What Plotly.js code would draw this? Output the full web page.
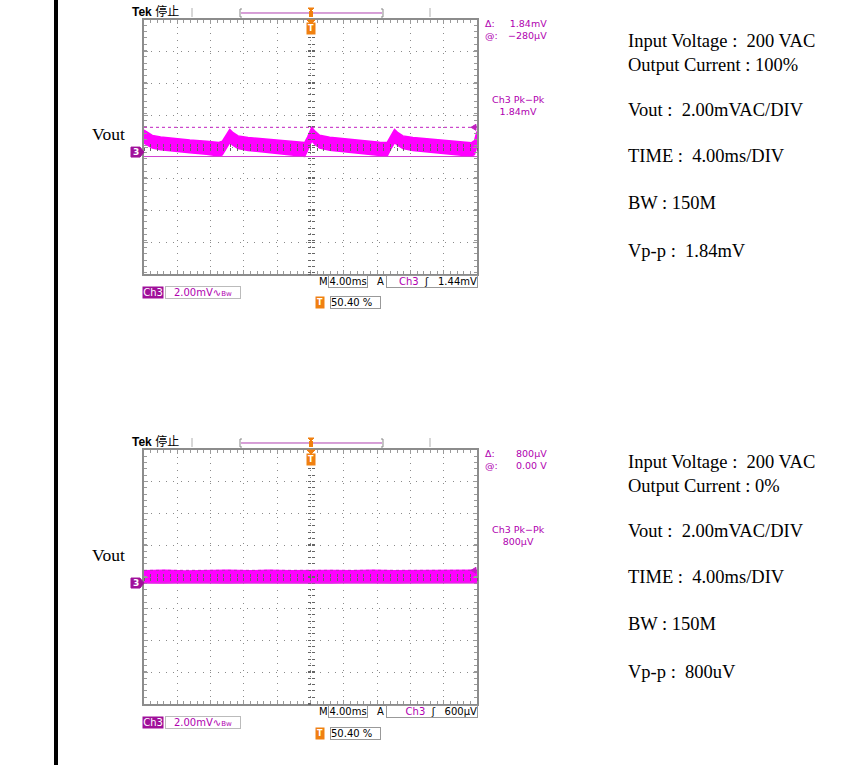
<!DOCTYPE html>
<html><head><meta charset="utf-8">
<script src="https://cdn.plot.ly/plotly-3.0.1.min.js"></script>
<style>html,body{margin:0;padding:0;background:#fff;}#chart{width:866px;height:765px;}</style>
</head><body><div id="chart"></div>
<script>
// ---------- data (mV relative to channel ground, time in ms) ----------
const timeTop  = [-20,-19.5,-19,-18,-16.5,-14.5,-12.5,-11,-10.6,-10.2,-9.7,-9.3,-8.7,-7.5,-5.5,-3.5,-1.5,-0.7,-0.35,0.15,0.55,1.1,2.3,4.3,6.3,8.3,9.2,9.6,10.1,10.5,11.1,12.3,14.3,16.3,18.3,19.3,19.7,20];
const upperTop = [1.38,1.2,1.05,0.95,0.85,0.76,0.68,0.6,0.68,1.05,1.43,1.22,1.02,0.92,0.82,0.72,0.62,0.6,0.95,1.56,1.3,1.06,0.94,0.82,0.72,0.62,0.6,1.0,1.43,1.22,1.02,0.92,0.82,0.72,0.62,0.58,0.72,1.3];
const lowerTop = [0.57,0.4,0.25,0.15,0.05,-0.05,-0.14,-0.24,-0.18,0.2,0.6,0.42,0.22,0.1,0.0,-0.1,-0.2,-0.27,0.1,0.72,0.48,0.25,0.12,0.0,-0.1,-0.2,-0.26,0.15,0.6,0.42,0.22,0.1,0.0,-0.1,-0.2,-0.26,-0.15,0.4];
const timeBottom  = [-20,-17.5,-15,-12.5,-10,-7.5,-5,-2.5,0,2.5,5,7.5,10,12.5,15,17.5,20];
const upperBottom = [0.78,0.8,0.76,0.79,0.8,0.77,0.8,0.78,0.8,0.79,0.77,0.8,0.78,0.79,0.8,0.77,0.8];
const lowerBottom = [0.02,0.0,0.03,0.01,0.0,0.02,0.01,0.0,0.02,0.0,0.03,0.01,0.0,0.02,0.01,0.0,0.03];
const cursorsTop    = [-0.28, 1.56];
const cursorsBottom = [0.0, 0.8];
const readoutTop    = {delta:'1.84mV', at:'\u2212280\u00b5V', pk:'1.84mV', trig:'1.44mV'};
const readoutBottom = {delta:'800\u00b5V', at:'0.00 V', pk:'800\u00b5V', trig:'600\u00b5V'};
const infoTop    = ['Input Voltage :  200 VAC','Output Current : 100%','Vout :  2.00mVAC/DIV','TIME :  4.00ms/DIV','BW : 150M','Vp-p :  1.84mV'];
const infoBottom = ['Input Voltage :  200 VAC','Output Current : 0%','Vout :  2.00mVAC/DIV','TIME :  4.00ms/DIV','BW : 150M','Vp-p :  800uV'];

// ---------- geometry / style ----------
const W = 866, H = 765;
const px = x => x / W, py = y => 1 - y / H;
const MAG = '#ff00ff', CUR = '#c020c0', LBL = '#b000b0', DARK = '#a0109a', ORANGE = '#f08010';
const SCOPE_FONT = 'DejaVu Sans, Liberation Sans, sans-serif';
const SERIF = 'Liberation Serif, Times New Roman, serif';
const nb = s => s.replace(/  /g, ' \u00a0');

const scopes = [
  {T:20,  B:274, dy:0,   off:0.32, t:timeTop,    up:upperTop,    lo:lowerTop,    cur:cursorsTop,    ro:readoutTop,    info:infoTop,    infoDy:0},
  {T:450, B:704, dy:430, off:0.38, t:timeBottom, up:upperBottom, lo:lowerBottom, cur:cursorsBottom, ro:readoutBottom, info:infoBottom, infoDy:421}
];

const data = [], shapes = [], annotations = [];
const layout = {
  width: W, height: H, margin: {l:0, r:0, t:0, b:0},
  paper_bgcolor: '#fff', plot_bgcolor: '#fff', showlegend: false,
  shapes, annotations
};

function ann(x, y, text, o) {
  annotations.push(Object.assign({
    xref:'paper', yref:'paper', x:px(x), y:py(y), text:text, showarrow:false,
    xanchor:'center', yanchor:'middle',
    font:{family:SCOPE_FONT, size:10, color:'#000'}
  }, o || {}));
}
function pathPx(pts, color, fill) {
  const d = pts.map((p, k) => (k ? 'L' : 'M') + px(p[0]).toFixed(5) + ' ' + py(p[1]).toFixed(5)).join(' ') + (fill ? ' Z' : '');
  shapes.push({type:'path', xref:'paper', yref:'paper', path:d,
    line:{color:color, width:1}, fillcolor: fill ? color : 'rgba(0,0,0,0)'});
}

scopes.forEach((s, i) => {
  const xk = i === 0 ? 'x' : 'x2', yk = i === 0 ? 'y' : 'y2';
  const xName = i === 0 ? 'xaxis' : 'xaxis2', yName = i === 0 ? 'yaxis' : 'yaxis2';
  const dx = [px(144), px(477)], dyd = [py(s.B), py(s.T)];
  const yr = [-8 + s.off, 8 + s.off];
  layout[xName] = {domain:dx, range:[-20,20], anchor:yk, showline:true, linecolor:'#8c8c8c', linewidth:2, mirror:'ticks',
    showgrid:true, gridcolor:'#8a8a8a', gridwidth:1, griddash:'1px,5.66px', zeroline:false,
    tick0:-20, dtick:4, ticks:'inside', ticklen:4, tickcolor:'#9a9a9a', tickwidth:1, showticklabels:false,
    minor:{dtick:0.8, ticks:'inside', ticklen:3, tickcolor:'#9a9a9a', tickwidth:1, showgrid:false}, fixedrange:true};
  layout[yName] = {domain:dyd, range:yr, anchor:xk, showline:true, linecolor:'#8c8c8c', linewidth:2, mirror:'ticks',
    showgrid:true, gridcolor:'#8a8a8a', gridwidth:1, griddash:'1px,6.35px', zeroline:false,
    tick0:s.off, dtick:2, ticks:'inside', ticklen:4, tickcolor:'#9a9a9a', tickwidth:1, showticklabels:false,
    minor:{dtick:0.4, ticks:'inside', ticklen:3, tickcolor:'#9a9a9a', tickwidth:1, showgrid:false}, fixedrange:true};

  // center crosshair tick axes
  const yc = (dyd[0] + dyd[1]) / 2, xc = (dx[0] + dx[1]) / 2;
  ['inside','outside'].forEach((side, k) => {
    const n = 3 + i * 2 + k;
    layout['xaxis' + n] = {overlaying:xk, anchor:'free', position:yc, domain:dx, range:[-20,20],
      showline:false, showgrid:false, zeroline:false, showticklabels:false,
      tick0:-20, dtick:4, ticks:side, ticklen:3, tickcolor:'#666', tickwidth:1,
      minor:{dtick:0.8, ticks:side, ticklen:3, tickcolor:'#666', tickwidth:1, showgrid:false}, fixedrange:true};
    layout['yaxis' + n] = {overlaying:yk, anchor:'free', position:xc, domain:dyd, range:yr,
      showline:false, showgrid:false, zeroline:false, showticklabels:false,
      tick0:s.off, dtick:2, ticks:side, ticklen:3, tickcolor:'#666', tickwidth:1,
      minor:{dtick:0.4, ticks:side, ticklen:3, tickcolor:'#666', tickwidth:1, showgrid:false}, fixedrange:true};
  });

  // trace envelope (noise band)
  data.push({type:'scatter', mode:'lines', x:s.t, y:s.lo, xaxis:xk, yaxis:yk,
    line:{color:MAG, width:1.5}, hoverinfo:'skip'});
  data.push({type:'scatter', mode:'lines', x:s.t, y:s.up, xaxis:xk, yaxis:yk,
    line:{color:MAG, width:1.5}, fill:'tonexty', fillcolor:MAG, hoverinfo:'skip'});
  for (let k = 0; k < 2; k++) {
    const n = 3 + i * 2 + k;
    data.push({type:'scatter', mode:'markers', x:[null], y:[null], xaxis:'x' + n, yaxis:yk, hoverinfo:'skip'});
    data.push({type:'scatter', mode:'markers', x:[null], y:[null], xaxis:xk, yaxis:'y' + n, hoverinfo:'skip'});
  }

  // cursors
  shapes.push({type:'line', xref:xk, yref:yk, x0:-20, x1:20, y0:s.cur[0], y1:s.cur[0], line:{color:'#d040d0', width:1}});
  shapes.push({type:'line', xref:xk, yref:yk, x0:-20, x1:20, y0:s.cur[1], y1:s.cur[1], line:{color:CUR, width:1, dash:'3px,3px'}});

  const dy = s.dy;
  const yPix = v => s.T + (yr[1] - v) / 16 * (s.B - s.T);
  const cPix = yPix(s.cur[1]);
  pathPx([[476, cPix - 3], [471, cPix], [476, cPix + 3]], CUR, true);

  // ground marker
  const g = yPix(0);
  pathPx([[131, g - 5], [140, g - 5], [144, g], [140, g + 5], [131, g + 5]], DARK, true);
  ann(135.5, g, '<b>3</b>', {font:{family:SCOPE_FONT, size:9, color:'#fff'}});

  // header
  ann(130, 12 + dy, '<b>Tek</b> 停止', {xanchor:'left', font:{family:'Liberation Sans, Noto Sans CJK SC, sans-serif', size:12, color:'#000'}});
  pathPx([[192, 8 + dy], [192, 17 + dy]], '#b0b0b0');
  pathPx([[430, 8 + dy], [430, 17 + dy]], '#b0b0b0');
  pathPx([[242, 9 + dy], [240, 9 + dy], [240, 17 + dy], [242, 17 + dy]], '#888');
  pathPx([[381, 9 + dy], [383, 9 + dy], [383, 17 + dy], [381, 17 + dy]], '#888');
  pathPx([[241, 13 + dy], [382, 13 + dy]], '#b040b0');
  pathPx([[308, 8 + dy], [314, 8 + dy], [311, 11 + dy]], ORANGE, true);
  shapes.push({type:'rect', xref:'paper', yref:'paper', x0:px(309), x1:px(313), y0:py(17 + dy), y1:py(11 + dy), fillcolor:ORANGE, line:{width:0}});
  pathPx([[307, 20 + dy], [315, 20 + dy], [311, 24 + dy]], ORANGE, true);
  ann(311, 29 + dy, '<b>T</b>', {bgcolor:ORANGE, borderpad:1, font:{family:SCOPE_FONT, size:8, color:'#fff'}});

  // readouts (two-line blocks)
  const lf = {family:SCOPE_FONT, size:9.5, color:LBL};
  ann(483, 29.5 + dy, '\u0394:<br>@:', {xanchor:'left', align:'left', font:lf});
  ann(549, 29.5 + dy, s.ro.delta + '<br>' + s.ro.at, {xanchor:'right', align:'right', font:lf});
  ann(518, 105.5 + dy, 'Ch3 Pk\u2212Pk<br>' + s.ro.pk, {align:'center', font:lf});

  // status row
  ann(323, 281 + dy, 'M', {font:{family:SCOPE_FONT, size:10, color:'#000'}});
  ann(348, 281 + dy, '4.00ms', {width:38, height:11, borderpad:0, bordercolor:'#999', borderwidth:1, bgcolor:'#fff',
    font:{family:SCOPE_FONT, size:10, color:'#000'}});
  ann(380, 281 + dy, 'A', {font:{family:SCOPE_FONT, size:10, color:'#000'}});
  ann(432, 281 + dy, "<span style='color:" + LBL + "'>Ch3</span>\u00a0\u00a0\u0283\u00a0\u00a0\u00a0" + s.ro.trig,
    {width:90, height:11, borderpad:0, bordercolor:'#999', borderwidth:1, bgcolor:'#fff', align:'right',
     font:{family:SCOPE_FONT, size:10, color:'#000'}});
  ann(153, 292 + dy, 'Ch3', {bgcolor:DARK, borderpad:0, height:11, width:20, font:{family:SCOPE_FONT, size:10, color:'#fff'}});
  ann(203, 292 + dy, "2.00mV\u223f<span style='font-size:7px'>Bw</span>", {width:74, height:11, borderpad:0, bordercolor:'#bbb', borderwidth:1, bgcolor:'#fff',
    font:{family:SCOPE_FONT, size:10, color:LBL}});
  ann(320, 303 + dy, '<b>T</b>', {bgcolor:ORANGE, borderpad:1, font:{family:SCOPE_FONT, size:8, color:'#fff'}});
  ann(355.5, 303 + dy, '50.40 %', {width:49, height:11, borderpad:0, bordercolor:'#999', borderwidth:1, bgcolor:'#fff', align:'left',
    font:{family:SCOPE_FONT, size:10, color:'#000'}});

  // left label
  ann(90, 134 + s.infoDy, 'Vout', {xanchor:'left', font:{family:SERIF, size:17.5, color:'#000'}});

  // right-hand info
  const infoY = [41, 65, 110, 156, 203, 251];
  s.info.forEach((txt, k) => ann(626, infoY[k] + s.infoDy, nb(txt), {xanchor:'left',
    font:{family:SERIF, size:18.5, color:'#000'}}));
});

// page separator bar
shapes.push({type:'rect', xref:'paper', yref:'paper', x0:px(54), x1:px(58), y0:0, y1:1, fillcolor:'#000', line:{width:0}});

Plotly.newPlot('chart', data, layout, {displayModeBar:false, staticPlot:true});
</script>
</body></html>
